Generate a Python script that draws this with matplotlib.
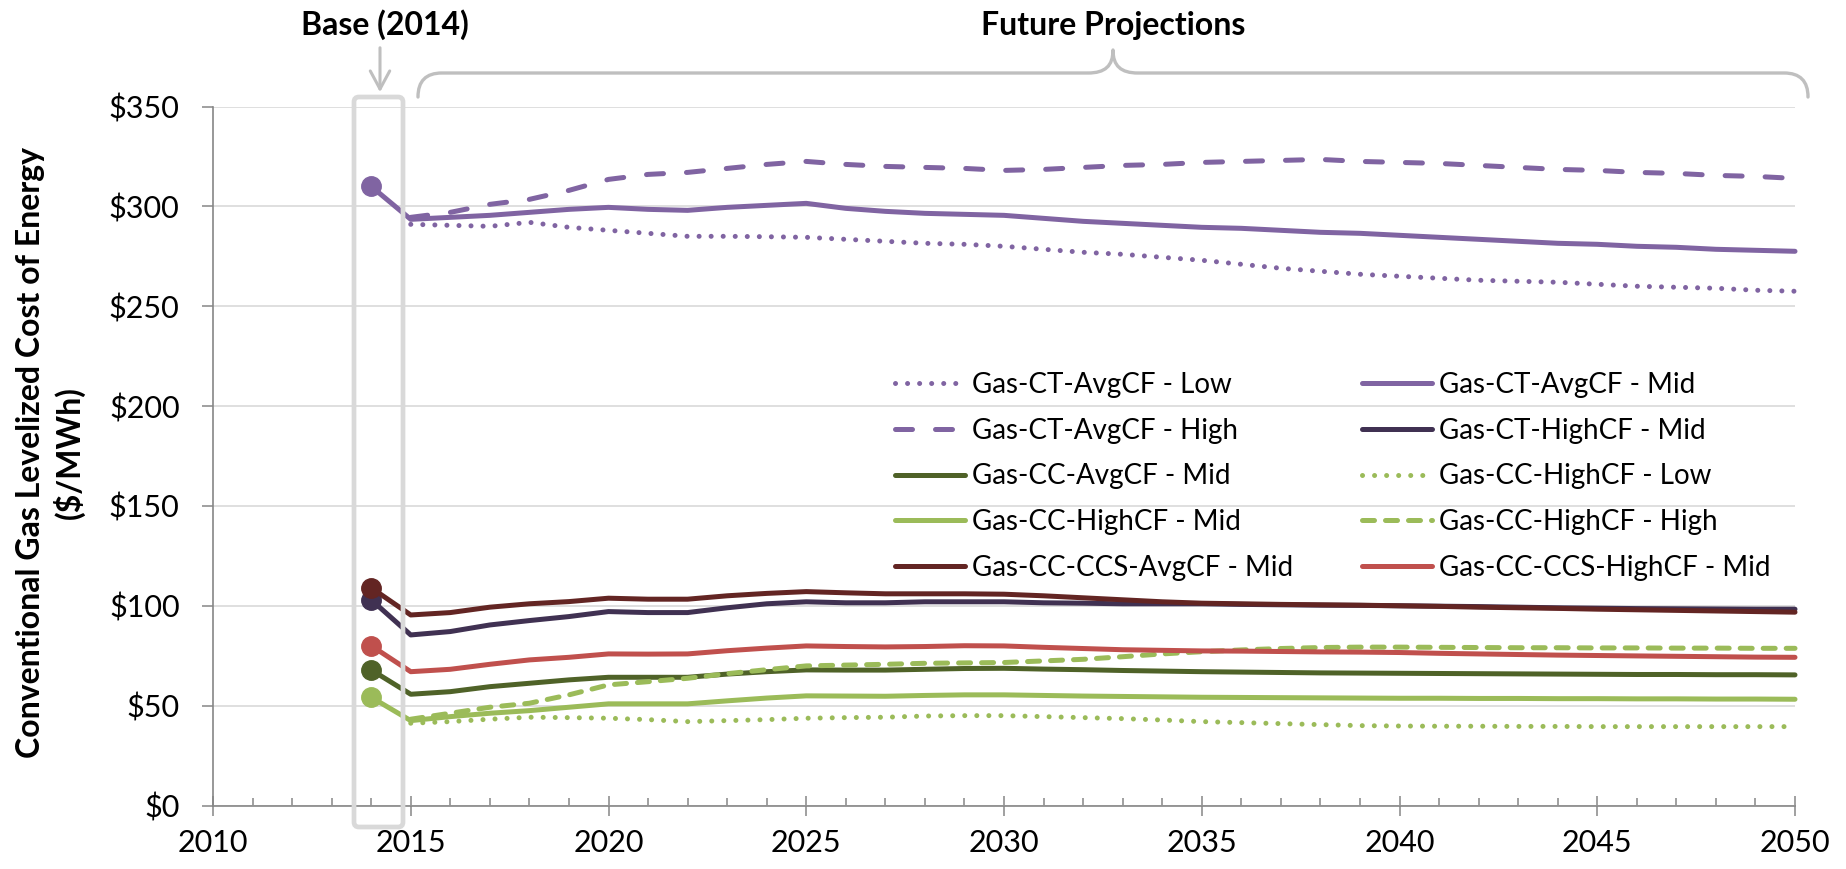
import numpy as np
import matplotlib.pyplot as plt
from matplotlib.patches import FancyBboxPatch, FancyArrowPatch, PathPatch
from matplotlib.path import Path

plt.rcParams['font.family'] = ['Lato', 'DejaVu Sans']

# ---- data ($/MWh) ----
years_base = np.arange(2014, 2051)   # Mid cases include the 2014 base year
years_proj = np.arange(2015, 2051)   # Low / High projections start in 2015

ct_avg_low = [291, 290.5, 290, 292, 289.5, 288, 286.5, 285, 285, 284.8, 284.5,
              283.5, 282.5, 281.5, 281, 280, 278.5, 277, 276, 274.5, 273,
              271, 269, 267.5, 266, 265, 264, 263, 262.5, 262, 261,
              260, 259.5, 259, 258, 257.5]
ct_avg_mid = [310, 293.5, 294.5, 295.5, 297, 298.5, 299.5, 298.5, 298, 299.5, 300.5,
              301.5, 299, 297.5, 296.5, 296, 295.5, 294, 292.5, 291.5, 290.5,
              289.5, 289, 288, 287, 286.5, 285.5, 284.5, 283.5, 282.5, 281.5,
              281, 280, 279.5, 278.5, 278, 277.5]
ct_avg_high = [294.5, 297, 301, 303.5, 308, 313.5, 316, 317, 319, 321, 322.5,
               321, 320, 319.5, 319, 318, 318.5, 319.5, 320.5, 321, 322,
               322.5, 323, 323.5, 322.5, 322, 321.5, 320.5, 319.5, 318.5, 318,
               317, 316.5, 315.5, 315, 314]
ct_high_mid = [103, 85.4, 87.1, 90.4, 92.6, 94.6, 97.1, 96.6, 96.6, 99, 101,
               102, 101.5, 101.5, 102, 102, 102, 101.5, 101.3, 101, 101,
               101, 100.7, 100.5, 100.3, 100.2, 100, 99.8, 99.6, 99.3, 99,
               98.8, 98.6, 98.5, 98.4, 98.3, 98.3]
cc_avg_mid = [67.9, 55.7, 57, 59.5, 61.2, 62.9, 64.2, 64.2, 64.2, 65.8, 67,
              67.9, 67.8, 67.8, 68.2, 68.6, 68.7, 68.3, 68, 67.6, 67.3,
              67, 66.8, 66.6, 66.4, 66.3, 66.2, 66.1, 66, 65.9, 65.8,
              65.7, 65.6, 65.6, 65.5, 65.5, 65.4]
cc_high_low = [41.2, 42, 43.2, 44.2, 44, 43.7, 43, 42, 42.5, 43, 43.7,
               44, 44.2, 44.8, 45, 45, 44.5, 44, 43.5, 42.8, 42,
               41.5, 41, 40.5, 40, 39.8, 39.7, 39.7, 39.6, 39.6, 39.5,
               39.5, 39.5, 39.5, 39.5, 39.5]
cc_high_mid = [54.2, 42.5, 44.5, 46.2, 47.5, 49.2, 50.9, 50.9, 50.9, 52.4, 53.8,
               54.9, 54.8, 54.7, 55.1, 55.4, 55.4, 55.1, 54.8, 54.6, 54.4,
               54.2, 54.1, 54, 53.9, 53.8, 53.7, 53.7, 53.6, 53.6, 53.5,
               53.5, 53.4, 53.4, 53.3, 53.3, 53.2]
cc_high_high = [43.2, 46.2, 49.2, 51.2, 55.4, 60.4, 62, 63.7, 66, 68, 69.9,
                70.3, 70.7, 71.2, 71.4, 71.6, 72.4, 73.2, 74.5, 75.9, 77,
                77.9, 78.6, 79.1, 79.3, 79.3, 79.2, 79.1, 79, 79, 78.9,
                78.9, 78.8, 78.8, 78.7, 78.7]
ccs_avg_mid = [109, 95.4, 96.6, 99.3, 101, 102.1, 103.8, 103.3, 103.3, 105, 106.2,
               107.1, 106.5, 106, 106, 106, 105.8, 105, 104, 103, 102,
               101.3, 101, 100.7, 100.5, 100.3, 100, 99.7, 99.3, 99, 98.7,
               98.3, 98, 97.7, 97.4, 97.1, 96.8]
ccs_high_mid = [80, 67, 68.2, 70.7, 72.9, 74.2, 75.9, 75.8, 75.9, 77.5, 78.8,
                79.9, 79.6, 79.4, 79.6, 80, 79.9, 79.2, 78.6, 78, 77.7,
                77.4, 77.3, 77.1, 76.9, 76.8, 76.6, 76.2, 75.9, 75.6, 75.3,
                75.1, 74.9, 74.7, 74.5, 74.3, 74.2]

y_ticks = [0, 50, 100, 150, 200, 250, 300, 350]
y_tick_labels = ['$' + str(v) for v in y_ticks]
x_ticks = [2010, 2015, 2020, 2025, 2030, 2035, 2040, 2045, 2050]

# ---- styles ----
PURPLE = '#8064A2'
NAVY = '#403152'
OLIVE = '#4F6228'
LGREEN = '#9BBB59'
MAROON = '#632523'
RED = '#C0504D'
DOT = (0, (0.01, 2.4))
LDASH = (0, (3.4, 4.6))
SDASH = (0, (2.4, 2.2))
SOLID = '-'

series = [
    ('Gas-CT-AvgCF - Low', years_proj, ct_avg_low, PURPLE, DOT),
    ('Gas-CT-AvgCF - Mid', years_base, ct_avg_mid, PURPLE, SOLID),
    ('Gas-CT-AvgCF - High', years_proj, ct_avg_high, PURPLE, LDASH),
    ('Gas-CT-HighCF - Mid', years_base, ct_high_mid, NAVY, SOLID),
    ('Gas-CC-AvgCF - Mid', years_base, cc_avg_mid, OLIVE, SOLID),
    ('Gas-CC-HighCF - Low', years_proj, cc_high_low, LGREEN, DOT),
    ('Gas-CC-HighCF - Mid', years_base, cc_high_mid, LGREEN, SOLID),
    ('Gas-CC-HighCF - High', years_proj, cc_high_high, LGREEN, SDASH),
    ('Gas-CC-CCS-AvgCF - Mid', years_base, ccs_avg_mid, MAROON, SOLID),
    ('Gas-CC-CCS-HighCF - Mid', years_base, ccs_high_mid, RED, SOLID),
]

W, H = 1846, 869
fig = plt.figure(figsize=(W / 100, H / 100), dpi=100)
ax = fig.add_axes([213 / W, 63.5 / H, 1582 / W, 699 / H])


def inch(x, y):
    # image pixel position (origin top-left) -> figure inches
    return x / 100, (H - y) / 100


handles = []
for label, yrs, vals, color, ls in series:
    has_base = yrs[0] == 2014
    ln, = ax.plot(yrs, vals, color=color, lw=3.6, ls=ls,
                  dash_capstyle='round', solid_capstyle='round',
                  solid_joinstyle='round', clip_on=False, zorder=3,
                  marker='o' if has_base else None, markevery=[0],
                  markersize=14, label=label)
    handles.append(ln)

ax.set_xlim(2010, 2050)
ax.set_ylim(0, 350)
ax.set_yticks(y_ticks)
ax.set_yticklabels(y_tick_labels)
ax.set_xticks(x_ticks)
ax.set_xticks(np.arange(2010, 2051), minor=True)
ax.grid(axis='y', color='#d9d9d9', lw=1.2, zorder=0)
ax.set_axisbelow(True)
for s in ['top', 'right']:
    ax.spines[s].set_visible(False)
for s in ['left', 'bottom']:
    ax.spines[s].set_color('#868686')
    ax.spines[s].set_linewidth(1.2)
ax.tick_params(axis='y', which='major', direction='out', length=8, width=1.1,
               color='#868686', labelsize=22, pad=16)
ax.tick_params(axis='x', which='major', direction='inout', length=14, width=1.1,
               color='#868686', labelsize=22, pad=10)
ax.tick_params(axis='x', which='minor', direction='in', length=6, width=1.1,
               color='#868686')
ax.tick_params(axis='y', which='minor', left=False)
ax.set_ylabel('Conventional Gas Levelized Cost of Energy\n($/MWh)',
              fontsize=23, fontweight='bold', linespacing=1.3)
ax.yaxis.set_label_coords(-0.081, 0.505)

# legend in two columns, each placed on its own
leg_kw = dict(frameon=False, fontsize=20, handlelength=2.52, handletextpad=0.25,
              labelspacing=0.71, borderpad=0, borderaxespad=0, loc='upper left',
              bbox_transform=fig.dpi_scale_trans)
leg1 = ax.legend(handles[0::2], [h.get_label() for h in handles[0::2]],
                 bbox_to_anchor=inch(895, 372), **leg_kw)
ax.add_artist(leg1)
ax.legend(handles[1::2], [h.get_label() for h in handles[1::2]],
          bbox_to_anchor=inch(1362, 372), **leg_kw)
for lg in [leg1, ax.get_legend()]:
    for h in lg.legend_handles:
        h.set_marker('')

# base-year box and arrow
box = FancyBboxPatch(inch(354, 827), 49 / 100, 730 / 100,
                     boxstyle='round,pad=0,rounding_size=0.05',
                     transform=fig.dpi_scale_trans, fill=False,
                     ec='#d9d9d9', lw=3.4, zorder=2)
fig.add_artist(box)
arrow = FancyArrowPatch(inch(380, 45), inch(380, 95), transform=fig.dpi_scale_trans,
                        arrowstyle='->,head_length=0.65,head_width=0.35',
                        mutation_scale=20, color='#bfbfbf', lw=2.2)
fig.add_artist(arrow)
fig.text(*inch(385, 25), 'Base (2014)', transform=fig.dpi_scale_trans,
         ha='center', va='center', fontsize=23, fontweight='bold')

# curly brace over the projection years
pts = [(418, 97), (418, 81), (426, 73), (442, 73),
       (1088, 73),
       (1105, 73), (1113, 66), (1113, 50),
       (1113, 66), (1121, 73), (1138, 73),
       (1784, 73),
       (1800, 73), (1808, 81), (1808, 97)]
codes = [Path.MOVETO, Path.CURVE4, Path.CURVE4, Path.CURVE4,
         Path.LINETO,
         Path.CURVE4, Path.CURVE4, Path.CURVE4,
         Path.CURVE4, Path.CURVE4, Path.CURVE4,
         Path.LINETO,
         Path.CURVE4, Path.CURVE4, Path.CURVE4]
brace = PathPatch(Path([inch(x, y) for x, y in pts], codes),
                  transform=fig.dpi_scale_trans, fill=False,
                  ec='#bfbfbf', lw=2.4, capstyle='round', joinstyle='round')
fig.add_artist(brace)
fig.text(*inch(1113, 25), 'Future Projections', transform=fig.dpi_scale_trans,
         ha='center', va='center', fontsize=23, fontweight='bold')

fig.savefig('out.png', dpi=100)
